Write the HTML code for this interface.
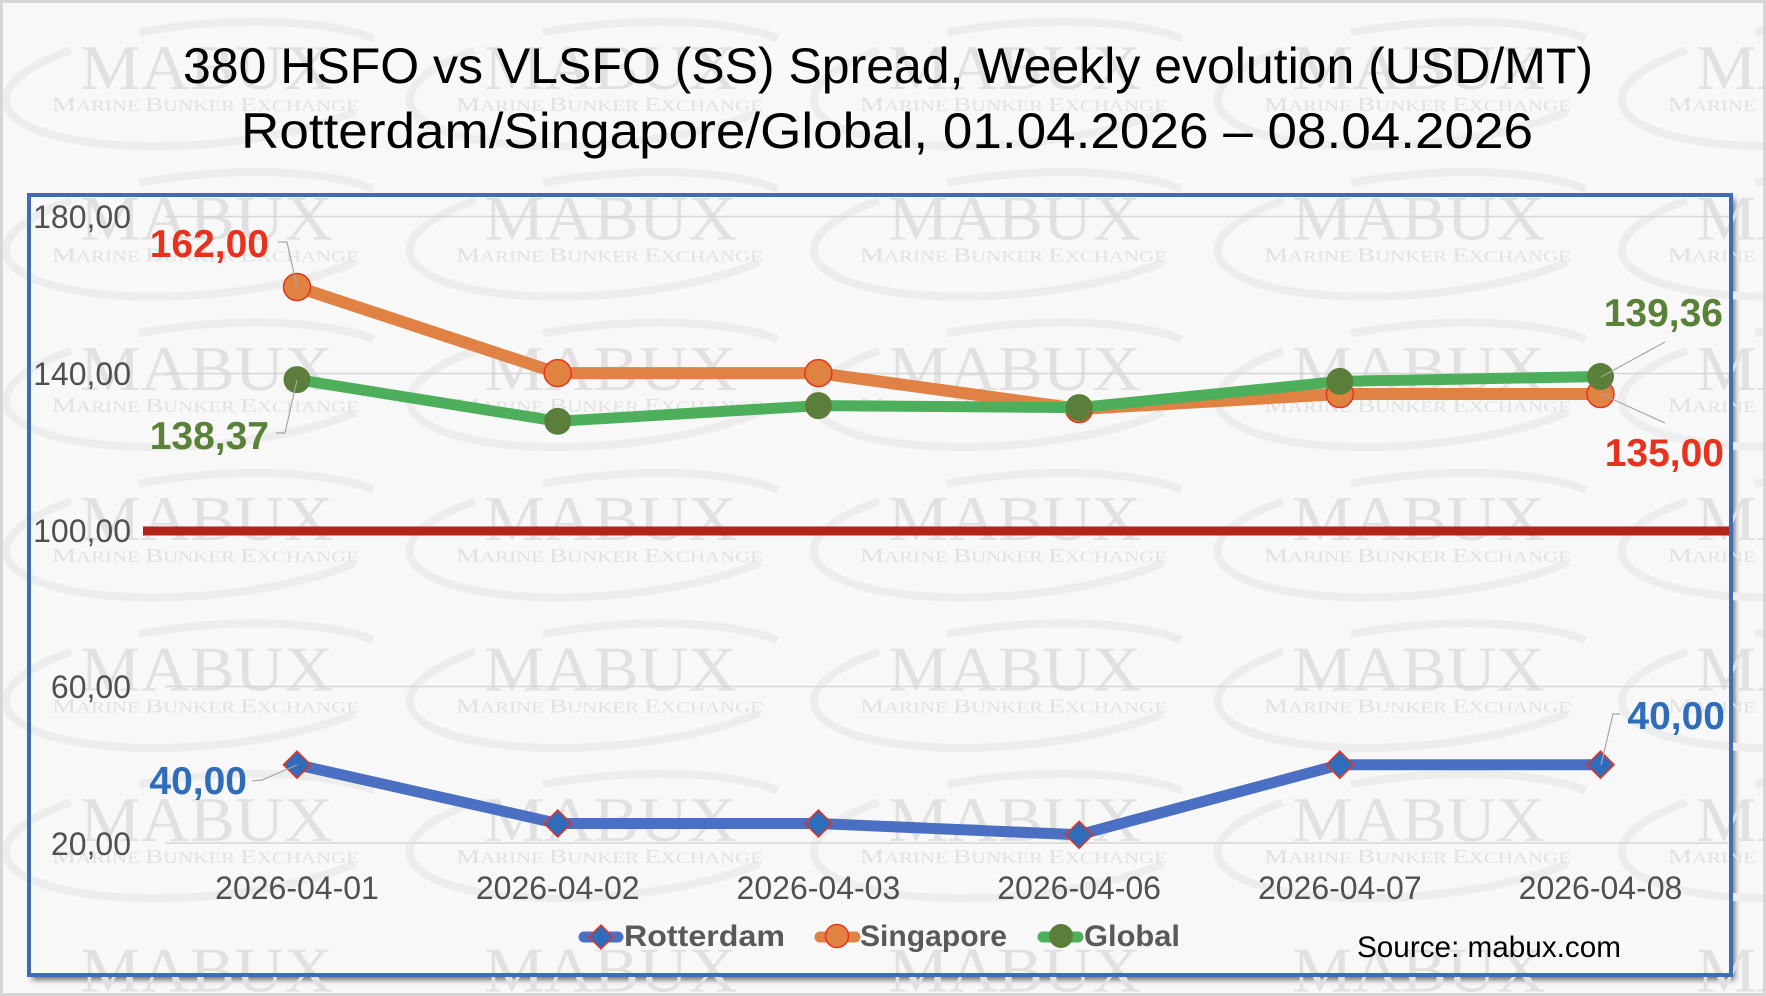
<!DOCTYPE html>
<html><head><meta charset="utf-8"><style>
html,body{margin:0;padding:0;background:#f8f8f8;width:1766px;height:996px;overflow:hidden;}
svg{display:block;overflow:hidden;}
.sw{fill:none;stroke:#ededed;stroke-width:8;stroke-dasharray:0 8 52 8 27 5;}
.mb{font-family:"Liberation Serif",serif;font-size:64px;fill:#e1e1e1;}
.mt{font-family:"Liberation Serif",serif;font-size:15.5px;fill:#e1e1e1;}
.mt .c{font-size:20px;}
.ttl{font-family:"Liberation Sans",sans-serif;font-size:50px;fill:#000;}
.ax{font-family:"Liberation Sans",sans-serif;font-size:32px;fill:#505050;}
.dl{font-family:"Liberation Sans",sans-serif;font-size:39px;font-weight:bold;}
.lg{font-family:"Liberation Sans",sans-serif;font-size:30px;font-weight:bold;fill:#595959;}
.ld{fill:none;stroke:#a6a6a6;stroke-width:1.2;}
</style></head><body>
<svg width="1766" height="996" viewBox="0 0 1766 996" xmlns="http://www.w3.org/2000/svg">
<defs>
<filter id="sh" x="-5%" y="-5%" width="110%" height="110%"><feGaussianBlur stdDeviation="3"/></filter>
</defs>
<rect x="0" y="0" width="1766" height="996" fill="#f8f8f8"/>
<!-- chart box shadow -->
<rect x="32" y="199" width="1703" height="781" fill="#6f6f6f" filter="url(#sh)"/>
<rect x="27" y="193" width="1706" height="784" fill="#f8f8f8"/>

<!-- watermark -->
<g id="wm">
<g transform="translate(-324,89)"><ellipse class="sw" pathLength="100" cx="125" cy="-5" rx="200" ry="60" transform="rotate(-5 125 -5)"/></g>
<g transform="translate(-324,239.4)"><ellipse class="sw" pathLength="100" cx="125" cy="-5" rx="200" ry="60" transform="rotate(-5 125 -5)"/></g>
<g transform="translate(-324,389.8)"><ellipse class="sw" pathLength="100" cx="125" cy="-5" rx="200" ry="60" transform="rotate(-5 125 -5)"/></g>
<g transform="translate(-324,540.2)"><ellipse class="sw" pathLength="100" cx="125" cy="-5" rx="200" ry="60" transform="rotate(-5 125 -5)"/></g>
<g transform="translate(-324,690.6)"><ellipse class="sw" pathLength="100" cx="125" cy="-5" rx="200" ry="60" transform="rotate(-5 125 -5)"/></g>
<g transform="translate(-324,841)"><ellipse class="sw" pathLength="100" cx="125" cy="-5" rx="200" ry="60" transform="rotate(-5 125 -5)"/></g>

<g transform="translate(80,89)"><ellipse class="sw" pathLength="100" cx="125" cy="-5" rx="200" ry="60" transform="rotate(-5 125 -5)"/><text class="mb" x="0" y="0" textLength="253" lengthAdjust="spacingAndGlyphs">MABUX</text><text class="mt" x="-28" y="22" textLength="307" lengthAdjust="spacingAndGlyphs"><tspan class="c">M</tspan>ARINE <tspan class="c">B</tspan>UNKER <tspan class="c">E</tspan>XCHANGE</text></g>
<g transform="translate(80,239.4)"><ellipse class="sw" pathLength="100" cx="125" cy="-5" rx="200" ry="60" transform="rotate(-5 125 -5)"/><text class="mb" x="0" y="0" textLength="253" lengthAdjust="spacingAndGlyphs">MABUX</text><text class="mt" x="-28" y="22" textLength="307" lengthAdjust="spacingAndGlyphs"><tspan class="c">M</tspan>ARINE <tspan class="c">B</tspan>UNKER <tspan class="c">E</tspan>XCHANGE</text></g>
<g transform="translate(80,389.8)"><ellipse class="sw" pathLength="100" cx="125" cy="-5" rx="200" ry="60" transform="rotate(-5 125 -5)"/><text class="mb" x="0" y="0" textLength="253" lengthAdjust="spacingAndGlyphs">MABUX</text><text class="mt" x="-28" y="22" textLength="307" lengthAdjust="spacingAndGlyphs"><tspan class="c">M</tspan>ARINE <tspan class="c">B</tspan>UNKER <tspan class="c">E</tspan>XCHANGE</text></g>
<g transform="translate(80,540.2)"><ellipse class="sw" pathLength="100" cx="125" cy="-5" rx="200" ry="60" transform="rotate(-5 125 -5)"/><text class="mb" x="0" y="0" textLength="253" lengthAdjust="spacingAndGlyphs">MABUX</text><text class="mt" x="-28" y="22" textLength="307" lengthAdjust="spacingAndGlyphs"><tspan class="c">M</tspan>ARINE <tspan class="c">B</tspan>UNKER <tspan class="c">E</tspan>XCHANGE</text></g>
<g transform="translate(80,690.6)"><ellipse class="sw" pathLength="100" cx="125" cy="-5" rx="200" ry="60" transform="rotate(-5 125 -5)"/><text class="mb" x="0" y="0" textLength="253" lengthAdjust="spacingAndGlyphs">MABUX</text><text class="mt" x="-28" y="22" textLength="307" lengthAdjust="spacingAndGlyphs"><tspan class="c">M</tspan>ARINE <tspan class="c">B</tspan>UNKER <tspan class="c">E</tspan>XCHANGE</text></g>
<g transform="translate(80,841)"><ellipse class="sw" pathLength="100" cx="125" cy="-5" rx="200" ry="60" transform="rotate(-5 125 -5)"/><text class="mb" x="0" y="0" textLength="253" lengthAdjust="spacingAndGlyphs">MABUX</text><text class="mt" x="-28" y="22" textLength="307" lengthAdjust="spacingAndGlyphs"><tspan class="c">M</tspan>ARINE <tspan class="c">B</tspan>UNKER <tspan class="c">E</tspan>XCHANGE</text></g>
<g transform="translate(80,991.4)"><text class="mb" x="0" y="0" textLength="253" lengthAdjust="spacingAndGlyphs">MABUX</text></g>

<g transform="translate(484,89)"><ellipse class="sw" pathLength="100" cx="125" cy="-5" rx="200" ry="60" transform="rotate(-5 125 -5)"/><text class="mb" x="0" y="0" textLength="253" lengthAdjust="spacingAndGlyphs">MABUX</text><text class="mt" x="-28" y="22" textLength="307" lengthAdjust="spacingAndGlyphs"><tspan class="c">M</tspan>ARINE <tspan class="c">B</tspan>UNKER <tspan class="c">E</tspan>XCHANGE</text></g>
<g transform="translate(484,239.4)"><ellipse class="sw" pathLength="100" cx="125" cy="-5" rx="200" ry="60" transform="rotate(-5 125 -5)"/><text class="mb" x="0" y="0" textLength="253" lengthAdjust="spacingAndGlyphs">MABUX</text><text class="mt" x="-28" y="22" textLength="307" lengthAdjust="spacingAndGlyphs"><tspan class="c">M</tspan>ARINE <tspan class="c">B</tspan>UNKER <tspan class="c">E</tspan>XCHANGE</text></g>
<g transform="translate(484,389.8)"><ellipse class="sw" pathLength="100" cx="125" cy="-5" rx="200" ry="60" transform="rotate(-5 125 -5)"/><text class="mb" x="0" y="0" textLength="253" lengthAdjust="spacingAndGlyphs">MABUX</text><text class="mt" x="-28" y="22" textLength="307" lengthAdjust="spacingAndGlyphs"><tspan class="c">M</tspan>ARINE <tspan class="c">B</tspan>UNKER <tspan class="c">E</tspan>XCHANGE</text></g>
<g transform="translate(484,540.2)"><ellipse class="sw" pathLength="100" cx="125" cy="-5" rx="200" ry="60" transform="rotate(-5 125 -5)"/><text class="mb" x="0" y="0" textLength="253" lengthAdjust="spacingAndGlyphs">MABUX</text><text class="mt" x="-28" y="22" textLength="307" lengthAdjust="spacingAndGlyphs"><tspan class="c">M</tspan>ARINE <tspan class="c">B</tspan>UNKER <tspan class="c">E</tspan>XCHANGE</text></g>
<g transform="translate(484,690.6)"><ellipse class="sw" pathLength="100" cx="125" cy="-5" rx="200" ry="60" transform="rotate(-5 125 -5)"/><text class="mb" x="0" y="0" textLength="253" lengthAdjust="spacingAndGlyphs">MABUX</text><text class="mt" x="-28" y="22" textLength="307" lengthAdjust="spacingAndGlyphs"><tspan class="c">M</tspan>ARINE <tspan class="c">B</tspan>UNKER <tspan class="c">E</tspan>XCHANGE</text></g>
<g transform="translate(484,841)"><ellipse class="sw" pathLength="100" cx="125" cy="-5" rx="200" ry="60" transform="rotate(-5 125 -5)"/><text class="mb" x="0" y="0" textLength="253" lengthAdjust="spacingAndGlyphs">MABUX</text><text class="mt" x="-28" y="22" textLength="307" lengthAdjust="spacingAndGlyphs"><tspan class="c">M</tspan>ARINE <tspan class="c">B</tspan>UNKER <tspan class="c">E</tspan>XCHANGE</text></g>
<g transform="translate(484,991.4)"><text class="mb" x="0" y="0" textLength="253" lengthAdjust="spacingAndGlyphs">MABUX</text></g>

<g transform="translate(888,89)"><ellipse class="sw" pathLength="100" cx="125" cy="-5" rx="200" ry="60" transform="rotate(-5 125 -5)"/><text class="mb" x="0" y="0" textLength="253" lengthAdjust="spacingAndGlyphs">MABUX</text><text class="mt" x="-28" y="22" textLength="307" lengthAdjust="spacingAndGlyphs"><tspan class="c">M</tspan>ARINE <tspan class="c">B</tspan>UNKER <tspan class="c">E</tspan>XCHANGE</text></g>
<g transform="translate(888,239.4)"><ellipse class="sw" pathLength="100" cx="125" cy="-5" rx="200" ry="60" transform="rotate(-5 125 -5)"/><text class="mb" x="0" y="0" textLength="253" lengthAdjust="spacingAndGlyphs">MABUX</text><text class="mt" x="-28" y="22" textLength="307" lengthAdjust="spacingAndGlyphs"><tspan class="c">M</tspan>ARINE <tspan class="c">B</tspan>UNKER <tspan class="c">E</tspan>XCHANGE</text></g>
<g transform="translate(888,389.8)"><ellipse class="sw" pathLength="100" cx="125" cy="-5" rx="200" ry="60" transform="rotate(-5 125 -5)"/><text class="mb" x="0" y="0" textLength="253" lengthAdjust="spacingAndGlyphs">MABUX</text><text class="mt" x="-28" y="22" textLength="307" lengthAdjust="spacingAndGlyphs"><tspan class="c">M</tspan>ARINE <tspan class="c">B</tspan>UNKER <tspan class="c">E</tspan>XCHANGE</text></g>
<g transform="translate(888,540.2)"><ellipse class="sw" pathLength="100" cx="125" cy="-5" rx="200" ry="60" transform="rotate(-5 125 -5)"/><text class="mb" x="0" y="0" textLength="253" lengthAdjust="spacingAndGlyphs">MABUX</text><text class="mt" x="-28" y="22" textLength="307" lengthAdjust="spacingAndGlyphs"><tspan class="c">M</tspan>ARINE <tspan class="c">B</tspan>UNKER <tspan class="c">E</tspan>XCHANGE</text></g>
<g transform="translate(888,690.6)"><ellipse class="sw" pathLength="100" cx="125" cy="-5" rx="200" ry="60" transform="rotate(-5 125 -5)"/><text class="mb" x="0" y="0" textLength="253" lengthAdjust="spacingAndGlyphs">MABUX</text><text class="mt" x="-28" y="22" textLength="307" lengthAdjust="spacingAndGlyphs"><tspan class="c">M</tspan>ARINE <tspan class="c">B</tspan>UNKER <tspan class="c">E</tspan>XCHANGE</text></g>
<g transform="translate(888,841)"><ellipse class="sw" pathLength="100" cx="125" cy="-5" rx="200" ry="60" transform="rotate(-5 125 -5)"/><text class="mb" x="0" y="0" textLength="253" lengthAdjust="spacingAndGlyphs">MABUX</text><text class="mt" x="-28" y="22" textLength="307" lengthAdjust="spacingAndGlyphs"><tspan class="c">M</tspan>ARINE <tspan class="c">B</tspan>UNKER <tspan class="c">E</tspan>XCHANGE</text></g>
<g transform="translate(888,991.4)"><text class="mb" x="0" y="0" textLength="253" lengthAdjust="spacingAndGlyphs">MABUX</text></g>

<g transform="translate(1292,89)"><ellipse class="sw" pathLength="100" cx="125" cy="-5" rx="200" ry="60" transform="rotate(-5 125 -5)"/><text class="mb" x="0" y="0" textLength="253" lengthAdjust="spacingAndGlyphs">MABUX</text><text class="mt" x="-28" y="22" textLength="307" lengthAdjust="spacingAndGlyphs"><tspan class="c">M</tspan>ARINE <tspan class="c">B</tspan>UNKER <tspan class="c">E</tspan>XCHANGE</text></g>
<g transform="translate(1292,239.4)"><ellipse class="sw" pathLength="100" cx="125" cy="-5" rx="200" ry="60" transform="rotate(-5 125 -5)"/><text class="mb" x="0" y="0" textLength="253" lengthAdjust="spacingAndGlyphs">MABUX</text><text class="mt" x="-28" y="22" textLength="307" lengthAdjust="spacingAndGlyphs"><tspan class="c">M</tspan>ARINE <tspan class="c">B</tspan>UNKER <tspan class="c">E</tspan>XCHANGE</text></g>
<g transform="translate(1292,389.8)"><ellipse class="sw" pathLength="100" cx="125" cy="-5" rx="200" ry="60" transform="rotate(-5 125 -5)"/><text class="mb" x="0" y="0" textLength="253" lengthAdjust="spacingAndGlyphs">MABUX</text><text class="mt" x="-28" y="22" textLength="307" lengthAdjust="spacingAndGlyphs"><tspan class="c">M</tspan>ARINE <tspan class="c">B</tspan>UNKER <tspan class="c">E</tspan>XCHANGE</text></g>
<g transform="translate(1292,540.2)"><ellipse class="sw" pathLength="100" cx="125" cy="-5" rx="200" ry="60" transform="rotate(-5 125 -5)"/><text class="mb" x="0" y="0" textLength="253" lengthAdjust="spacingAndGlyphs">MABUX</text><text class="mt" x="-28" y="22" textLength="307" lengthAdjust="spacingAndGlyphs"><tspan class="c">M</tspan>ARINE <tspan class="c">B</tspan>UNKER <tspan class="c">E</tspan>XCHANGE</text></g>
<g transform="translate(1292,690.6)"><ellipse class="sw" pathLength="100" cx="125" cy="-5" rx="200" ry="60" transform="rotate(-5 125 -5)"/><text class="mb" x="0" y="0" textLength="253" lengthAdjust="spacingAndGlyphs">MABUX</text><text class="mt" x="-28" y="22" textLength="307" lengthAdjust="spacingAndGlyphs"><tspan class="c">M</tspan>ARINE <tspan class="c">B</tspan>UNKER <tspan class="c">E</tspan>XCHANGE</text></g>
<g transform="translate(1292,841)"><ellipse class="sw" pathLength="100" cx="125" cy="-5" rx="200" ry="60" transform="rotate(-5 125 -5)"/><text class="mb" x="0" y="0" textLength="253" lengthAdjust="spacingAndGlyphs">MABUX</text><text class="mt" x="-28" y="22" textLength="307" lengthAdjust="spacingAndGlyphs"><tspan class="c">M</tspan>ARINE <tspan class="c">B</tspan>UNKER <tspan class="c">E</tspan>XCHANGE</text></g>
<g transform="translate(1292,991.4)"><text class="mb" x="0" y="0" textLength="253" lengthAdjust="spacingAndGlyphs">MABUX</text></g>

<g transform="translate(1696,89)"><ellipse class="sw" pathLength="100" cx="125" cy="-5" rx="200" ry="60" transform="rotate(-5 125 -5)"/><text class="mb" x="0" y="0" textLength="253" lengthAdjust="spacingAndGlyphs">MABUX</text><text class="mt" x="-28" y="22" textLength="307" lengthAdjust="spacingAndGlyphs"><tspan class="c">M</tspan>ARINE <tspan class="c">B</tspan>UNKER <tspan class="c">E</tspan>XCHANGE</text></g>
<g transform="translate(1696,239.4)"><ellipse class="sw" pathLength="100" cx="125" cy="-5" rx="200" ry="60" transform="rotate(-5 125 -5)"/><text class="mb" x="0" y="0" textLength="253" lengthAdjust="spacingAndGlyphs">MABUX</text><text class="mt" x="-28" y="22" textLength="307" lengthAdjust="spacingAndGlyphs"><tspan class="c">M</tspan>ARINE <tspan class="c">B</tspan>UNKER <tspan class="c">E</tspan>XCHANGE</text></g>
<g transform="translate(1696,389.8)"><ellipse class="sw" pathLength="100" cx="125" cy="-5" rx="200" ry="60" transform="rotate(-5 125 -5)"/><text class="mb" x="0" y="0" textLength="253" lengthAdjust="spacingAndGlyphs">MABUX</text><text class="mt" x="-28" y="22" textLength="307" lengthAdjust="spacingAndGlyphs"><tspan class="c">M</tspan>ARINE <tspan class="c">B</tspan>UNKER <tspan class="c">E</tspan>XCHANGE</text></g>
<g transform="translate(1696,540.2)"><ellipse class="sw" pathLength="100" cx="125" cy="-5" rx="200" ry="60" transform="rotate(-5 125 -5)"/><text class="mb" x="0" y="0" textLength="253" lengthAdjust="spacingAndGlyphs">MABUX</text><text class="mt" x="-28" y="22" textLength="307" lengthAdjust="spacingAndGlyphs"><tspan class="c">M</tspan>ARINE <tspan class="c">B</tspan>UNKER <tspan class="c">E</tspan>XCHANGE</text></g>
<g transform="translate(1696,690.6)"><ellipse class="sw" pathLength="100" cx="125" cy="-5" rx="200" ry="60" transform="rotate(-5 125 -5)"/><text class="mb" x="0" y="0" textLength="253" lengthAdjust="spacingAndGlyphs">MABUX</text><text class="mt" x="-28" y="22" textLength="307" lengthAdjust="spacingAndGlyphs"><tspan class="c">M</tspan>ARINE <tspan class="c">B</tspan>UNKER <tspan class="c">E</tspan>XCHANGE</text></g>
<g transform="translate(1696,841)"><ellipse class="sw" pathLength="100" cx="125" cy="-5" rx="200" ry="60" transform="rotate(-5 125 -5)"/><text class="mb" x="0" y="0" textLength="253" lengthAdjust="spacingAndGlyphs">MABUX</text><text class="mt" x="-28" y="22" textLength="307" lengthAdjust="spacingAndGlyphs"><tspan class="c">M</tspan>ARINE <tspan class="c">B</tspan>UNKER <tspan class="c">E</tspan>XCHANGE</text></g>
<g transform="translate(1696,991.4)"><text class="mb" x="0" y="0" textLength="253" lengthAdjust="spacingAndGlyphs">MABUX</text></g>
</g>

<!-- outer frame -->
<rect x="1.5" y="1.5" width="1763" height="993" fill="none" stroke="#d6d6d6" stroke-width="3"/>
<!-- chart border -->
<rect x="29" y="195" width="1702" height="780" fill="none" stroke="#3e6db5" stroke-width="4"/>

<!-- title -->
<text class="ttl" x="183" y="83" textLength="1410" lengthAdjust="spacingAndGlyphs">380 HSFO vs VLSFO (SS) Spread, Weekly evolution (USD/MT)</text>
<text class="ttl" x="241" y="148" textLength="1292" lengthAdjust="spacingAndGlyphs">Rotterdam/Singapore/Global, 01.04.2026 – 08.04.2026</text>

<!-- gridlines -->
<g stroke="#d6d6d6" stroke-width="1.5">
<line x1="165" y1="216.5" x2="1729" y2="216.5"/>
<line x1="165" y1="373.5" x2="1729" y2="373.5"/>
<line x1="165" y1="686.5" x2="1729" y2="686.5"/>
<line x1="165" y1="843" x2="1729" y2="843"/>
</g>
<line x1="143" y1="531" x2="1729" y2="531" stroke="#b0241a" stroke-width="9"/>

<!-- y labels -->
<g class="ax" text-anchor="end">
<text x="131" y="228">180,00</text>
<text x="131" y="385">140,00</text>
<text x="131" y="542">100,00</text>
<text x="131" y="698">60,00</text>
<text x="131" y="855">20,00</text>
</g>
<!-- x labels -->
<g class="ax" text-anchor="middle">
<text x="297" y="899">2026-04-01</text>
<text x="557.7" y="899">2026-04-02</text>
<text x="818.4" y="899">2026-04-03</text>
<text x="1079.1" y="899">2026-04-06</text>
<text x="1339.8" y="899">2026-04-07</text>
<text x="1600.5" y="899">2026-04-08</text>
</g>

<!-- Rotterdam -->
<polyline points="297,764.7 557.7,823.5 818.4,823.5 1079.1,834.8 1339.8,764.7 1600.5,764.7" fill="none" stroke="#4a6fc3" stroke-width="11" stroke-linejoin="round"/>
<g fill="#2f6dbb" stroke="#e8321e" stroke-width="1.5">
<path d="M297,751.2 L310.5,764.7 L297,778.2 L283.5,764.7 Z"/>
<path d="M557.7,810 L571.2,823.5 L557.7,837 L544.2,823.5 Z"/>
<path d="M818.4,810 L831.9,823.5 L818.4,837 L804.9,823.5 Z"/>
<path d="M1079.1,821.3 L1092.6,834.8 L1079.1,848.3 L1065.6,834.8 Z"/>
<path d="M1339.8,751.2 L1353.3,764.7 L1339.8,778.2 L1326.3,764.7 Z"/>
<path d="M1600.5,751.2 L1614,764.7 L1600.5,778.2 L1587,764.7 Z"/>
</g>

<!-- Singapore -->
<polyline points="297,287 557.7,373.1 818.4,373.1 1079.1,409 1339.8,394 1600.5,394" fill="none" stroke="#df8243" stroke-width="12" stroke-linejoin="round"/>
<g fill="#e08341" stroke="#e8321e" stroke-width="1.5">
<circle cx="297" cy="287" r="13.5"/>
<circle cx="557.7" cy="373.1" r="13.5"/>
<circle cx="818.4" cy="373.1" r="13.5"/>
<circle cx="1079.1" cy="409" r="13.5"/>
<circle cx="1339.8" cy="394" r="13.5"/>
<circle cx="1600.5" cy="394" r="13.5"/>
</g>

<!-- Global -->
<polyline points="297,379.6 557.7,421.3 818.4,405.6 1079.1,407.6 1339.8,381.4 1600.5,376.5" fill="none" stroke="#4daf5c" stroke-width="11" stroke-linejoin="round"/>
<g fill="#5b7f3b">
<circle cx="297" cy="379.6" r="13.5"/>
<circle cx="557.7" cy="421.3" r="13.5"/>
<circle cx="818.4" cy="405.6" r="13.5"/>
<circle cx="1079.1" cy="407.6" r="13.5"/>
<circle cx="1339.8" cy="381.4" r="13.5"/>
<circle cx="1600.5" cy="376.5" r="13.5"/>
</g>

<!-- leaders -->
<polyline class="ld" points="278,242 287,242 297,287"/>
<polyline class="ld" points="276,433 285,433 297,380"/>
<polyline class="ld" points="1665,342 1601,377"/>
<polyline class="ld" points="1665,423 1601,394"/>
<polyline class="ld" points="252,781 262,780 297,765"/>
<polyline class="ld" points="1620,714 1613,714 1601,765"/>

<!-- data labels -->
<text class="dl" x="269" y="257" text-anchor="end" fill="#e8321e">162,00</text>
<text class="dl" x="269" y="449" text-anchor="end" fill="#5a8138">138,37</text>
<text class="dl" x="1723" y="326" text-anchor="end" fill="#5a8138">139,36</text>
<text class="dl" x="1724" y="466" text-anchor="end" fill="#e8321e">135,00</text>
<text class="dl" x="247" y="794" text-anchor="end" fill="#2f6dbb">40,00</text>
<text class="dl" x="1725" y="729" text-anchor="end" fill="#2f6dbb">40,00</text>

<!-- legend -->
<line x1="584" y1="937" x2="618" y2="937" stroke="#4a6fc3" stroke-width="11" stroke-linecap="round"/>
<path d="M601,925 L613,937 L601,949 L589,937 Z" fill="#2f6dbb" stroke="#e8321e" stroke-width="1.5"/>
<text class="lg" x="624" y="946" textLength="161" lengthAdjust="spacingAndGlyphs">Rotterdam</text>
<line x1="820" y1="937" x2="855" y2="937" stroke="#df8243" stroke-width="11" stroke-linecap="round"/>
<circle cx="837" cy="936" r="11.5" fill="#e08341" stroke="#e8321e" stroke-width="1.5"/>
<text class="lg" x="860" y="946" textLength="147" lengthAdjust="spacingAndGlyphs">Singapore</text>
<line x1="1043" y1="937" x2="1078" y2="937" stroke="#4daf5c" stroke-width="11" stroke-linecap="round"/>
<circle cx="1061" cy="936" r="12" fill="#5b7f3b"/>
<text class="lg" x="1084" y="946" textLength="96" lengthAdjust="spacingAndGlyphs">Global</text>

<text x="1357" y="957" font-family="Liberation Sans, sans-serif" font-size="30" fill="#000" textLength="264" lengthAdjust="spacingAndGlyphs">Source: mabux.com</text>
</svg>
</body></html>
